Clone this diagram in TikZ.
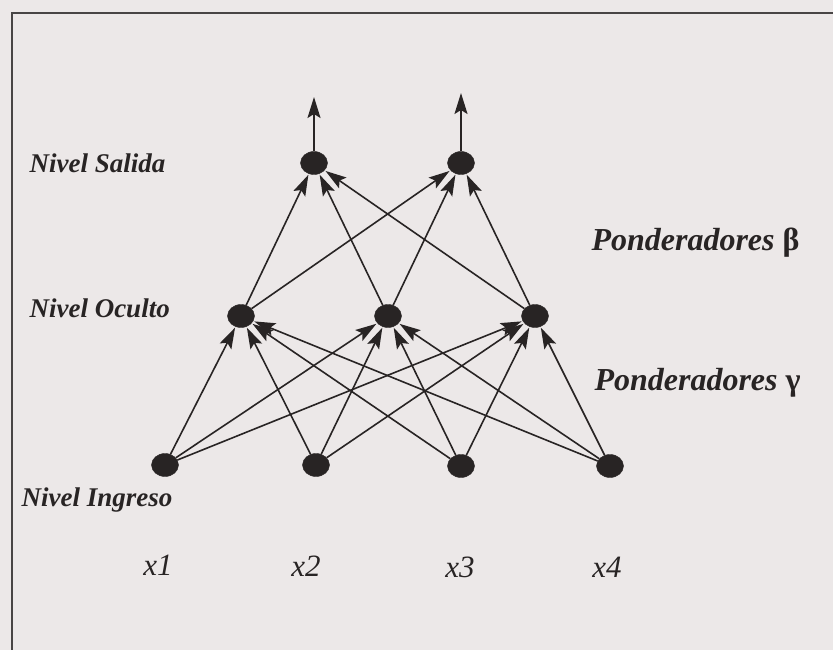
\documentclass[tikz,border=0pt]{standalone}
\usepackage{fontspec}
\setmainfont{Liberation Serif}
\usepackage{xcolor}
\usepackage{tikz}
\usetikzlibrary{arrows.meta, positioning, shapes.geometric}

\definecolor{paper}{RGB}{236,232,232}
\definecolor{ink}{RGB}{40,36,36}

\begin{document}
\begin{tikzpicture}[
  x=1pt, y=-1pt,
  neuron/.style={draw=ink, fill=ink, ellipse, minimum width=27pt, minimum height=23pt, inner sep=0pt},
  lvl/.style={anchor=west, text=ink, font=\fontsize{27}{30}\selectfont\bfseries\itshape},
  wlbl/.style={anchor=west, text=ink, font=\fontsize{32}{35}\selectfont\bfseries\itshape},
  xin/.style={text=ink, font=\fontsize{31}{34}\selectfont\itshape},
  arr/.style={-{Stealth[length=21pt, width=13pt, inset=4pt]}, line width=1.6pt, ink, shorten >=1pt}
]
  % Paper and frame
  \useasboundingbox (0,0) rectangle (833,650);
  \fill[paper] (0,0) rectangle (833,650);
  \draw[ink!85, line width=2pt] (12,650) -- (12,13) -- (833,13);

  % Output level
  \node[neuron] (o1) at (314,163) {};
  \node[neuron] (o2) at (461,163) {};
  \coordinate (y1) at (314,96);
  \coordinate (y2) at (461,92);

  % Hidden level
  \node[neuron] (h1) at (241,316) {};
  \node[neuron] (h2) at (388,316) {};
  \node[neuron] (h3) at (535,316) {};

  % Input level
  \node[neuron] (i1) at (165,465) {};
  \node[neuron] (i2) at (316,465) {};
  \node[neuron] (i3) at (461,466) {};
  \node[neuron] (i4) at (610,466) {};

  % Level labels
  \node[lvl] (ls) at (26,163) {Nivel Salida};
  \node[lvl] (lo) at (26,308) {Nivel Oculto};
  \node[lvl] (li) at (18,500) {Nivel Ingreso};

  % Input names
  \node[xin] (n1) at (158,565) {x1};
  \node[xin] (n2) at (306,566) {x2};
  \node[xin] (n3) at (460,567) {x3};
  \node[xin] (n4) at (607,567) {x4};

  % Weights
  \node[wlbl] (beta)  at (588,243) {Ponderadores \textup{β}};
  \node[wlbl] (gamma) at (591,383) {Ponderadores \textup{γ}};

  % Inputs to hidden
  \draw[arr] (i1) -- (h1);
  \draw[arr] (i1) -- (h2);
  \draw[arr] (i1) -- (h3);
  \draw[arr] (i2) -- (h1);
  \draw[arr] (i2) -- (h2);
  \draw[arr] (i2) -- (h3);
  \draw[arr] (i3) -- (h1);
  \draw[arr] (i3) -- (h2);
  \draw[arr] (i3) -- (h3);
  \draw[arr] (i4) -- (h1);
  \draw[arr] (i4) -- (h2);
  \draw[arr] (i4) -- (h3);

  % Hidden to output
  \draw[arr] (h1) -- (o1);
  \draw[arr] (h1) -- (o2);
  \draw[arr] (h2) -- (o1);
  \draw[arr] (h2) -- (o2);
  \draw[arr] (h3) -- (o1);
  \draw[arr] (h3) -- (o2);

  % Outputs
  \draw[arr] (o1) -- (y1);
  \draw[arr] (o2) -- (y2);
\end{tikzpicture}
\end{document}
